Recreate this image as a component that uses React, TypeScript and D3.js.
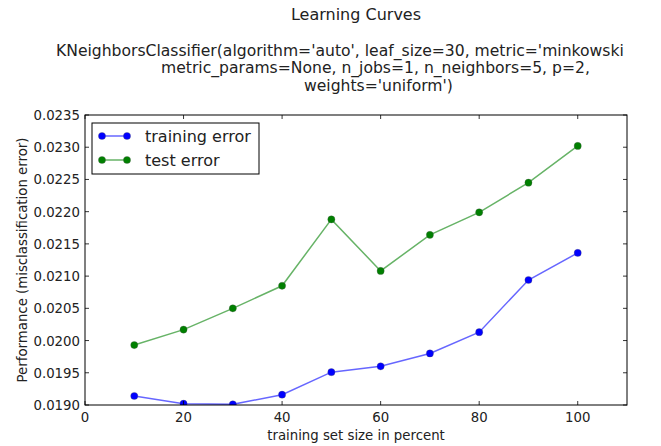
import React from "react";
import * as d3 from "d3";

const sizes = [10, 20, 30, 40, 50, 60, 70, 80, 90, 100];
const trainingError = [0.01914, 0.01902, 0.01901, 0.01916, 0.01951, 0.01960, 0.01980, 0.02013, 0.02094, 0.02136];
const testError = [0.01993, 0.02017, 0.02050, 0.02085, 0.02188, 0.02108, 0.02164, 0.02199, 0.02245, 0.02302];
const xTicks = [0, 20, 40, 60, 80, 100];
const yTicks = [0.019, 0.0195, 0.02, 0.0205, 0.021, 0.0215, 0.022, 0.0225, 0.023, 0.0235];
const titleLines = [
  "Learning Curves",
  "KNeighborsClassifier(algorithm='auto', leaf_size=30, metric='minkowski",
  "metric_params=None, n_jobs=1, n_neighbors=5, p=2,",
  "weights='uniform')",
];
const seriesNames = ["training error", "test error"];

const W = 661, H = 446;
const L = 85, R = 627, T = 115, B = 405;
const FONT = "DejaVu Sans, sans-serif";

export default function App() {
  const x = d3.scaleLinear().domain([0, 110]).range([L, R]);
  const y = d3.scaleLinear().domain([0.019, 0.0235]).range([B, T]);
  const line = d3.line<number>().x((_, i) => x(sizes[i])).y((d) => y(d));
  const series = [
    { name: seriesNames[0], values: trainingError, color: "#0000ff" },
    { name: seriesNames[1], values: testError, color: "#008000" },
  ];
  const tl = 4;
  return (
    <svg width={W} height={H} style={{ position: "absolute", left: 0, top: 0, background: "#fff" }} fontFamily={FONT}>
      <rect x={0} y={0} width={W} height={H} fill="#fff" />
      {/* titles */}
      <text x={356} y={20} fontSize={16} textAnchor="middle" fill="#222">{titleLines[0]}</text>
      <text x={56} y={55.5} fontSize={15.6} fill="#222">{titleLines[1]}</text>
      <text x={161} y={73} fontSize={15.6} fill="#222">{titleLines[2]}</text>
      <text x={304} y={90.5} fontSize={15.6} fill="#222">{titleLines[3]}</text>

      {/* series */}
      <defs>
        <clipPath id="clip">
          <rect x={L} y={T - 5} width={R - L} height={B - T + 5} />
        </clipPath>
      </defs>
      <g clipPath="url(#clip)">
        {series.map((s) => (
          <g key={s.name}>
            <path d={line(s.values) || ""} fill="none" stroke={s.color} strokeOpacity={0.6} strokeWidth={1.5} />
            {s.values.map((v, i) => (
              <circle key={i} cx={x(sizes[i])} cy={y(v)} r={3.6} fill={s.color} stroke="#555" strokeOpacity={0.5} strokeWidth={0.6} />
            ))}
          </g>
        ))}
      </g>

      {/* ticks */}
      {xTicks.map((t) => (
        <g key={"x" + t}>
          <line x1={x(t)} x2={x(t)} y1={B} y2={B - tl} stroke="#000" strokeWidth={0.8} />
          <line x1={x(t)} x2={x(t)} y1={T} y2={T + tl} stroke="#000" strokeWidth={0.8} />
          <text x={x(t)} y={422} fontSize={13.3} textAnchor="middle" fill="#222">{t}</text>
        </g>
      ))}
      {yTicks.map((t) => (
        <g key={"y" + t}>
          <line x1={L} x2={L + tl} y1={y(t)} y2={y(t)} stroke="#000" strokeWidth={0.8} />
          <line x1={R} x2={R - tl} y1={y(t)} y2={y(t)} stroke="#000" strokeWidth={0.8} />
          <text x={L - 5} y={y(t) + 5} fontSize={13.3} textAnchor="end" fill="#222">{t.toFixed(4)}</text>
        </g>
      ))}

      {/* frame */}
      <rect x={L} y={T} width={R - L} height={B - T} fill="none" stroke="#000" strokeWidth={1} />

      {/* axis labels */}
      <text x={356} y={440} fontSize={13.3} textAnchor="middle" fill="#222">training set size in percent</text>
      <text transform={`translate(27,${(T + B) / 2}) rotate(-90)`} fontSize={13.3} textAnchor="middle" fill="#222">
        Performance (misclassification error)
      </text>

      {/* legend */}
      <rect x={92} y={123} width={167} height={51} fill="#fff" stroke="#000" strokeWidth={1} />
      {series.map((s, i) => {
        const ly = 136 + i * 24;
        return (
          <g key={"lg" + s.name}>
            <line x1={102} x2={127} y1={ly} y2={ly} stroke={s.color} strokeOpacity={0.6} strokeWidth={1.5} />
            <circle cx={102} cy={ly} r={3.6} fill={s.color} stroke="#555" strokeOpacity={0.5} strokeWidth={0.6} />
            <circle cx={127} cy={ly} r={3.6} fill={s.color} stroke="#555" strokeOpacity={0.5} strokeWidth={0.6} />
            <text x={145} y={ly + 5.5} fontSize={16} fill="#222">{s.name}</text>
          </g>
        );
      })}
    </svg>
  );
}
